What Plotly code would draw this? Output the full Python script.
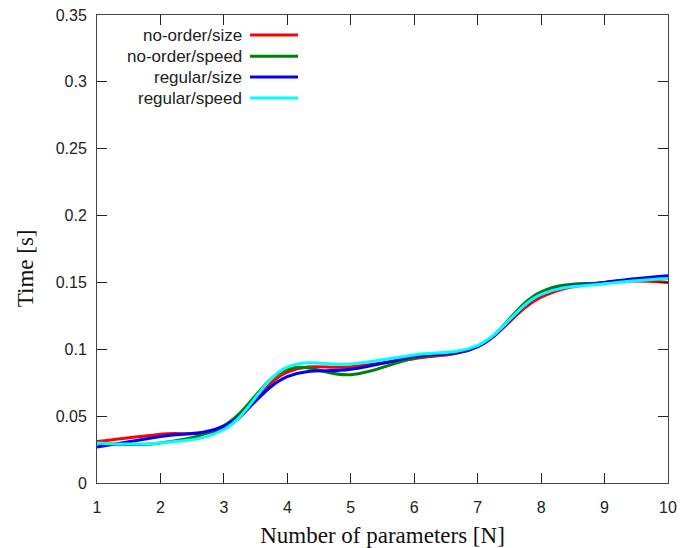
import plotly.graph_objects as go

# ---- data ----
n_params = [1, 2, 3, 4, 5, 6, 7, 8, 9, 10]
series_names = ["no-order/size", "no-order/speed", "regular/size", "regular/speed"]
no_order_size = [0.031, 0.0365, 0.041, 0.083, 0.087, 0.093, 0.102, 0.139, 0.150, 0.150]
no_order_speed = [0.030, 0.030, 0.043, 0.085, 0.081, 0.0935, 0.102, 0.143, 0.150, 0.153]
regular_size = [0.027, 0.0347, 0.0425, 0.0796, 0.085, 0.0945, 0.102, 0.141, 0.150, 0.155]
regular_speed = [0.030, 0.030, 0.040, 0.0866, 0.089, 0.0958, 0.103, 0.141, 0.149, 0.153]
series_values = [no_order_size, no_order_speed, regular_size, regular_speed]
colors = ["#ff0000", "#008000", "#0000ff", "#00ffff"]

x_ticks = [1, 2, 3, 4, 5, 6, 7, 8, 9, 10]
y_ticks = [0, 0.05, 0.1, 0.15, 0.2, 0.25, 0.3, 0.35]
y_tick_text = ["0", "0.05", "0.1", "0.15", "0.2", "0.25", "0.3", "0.35"]

fig = go.Figure()
for name, vals, col in zip(series_names, series_values, colors):
    fig.add_trace(go.Scatter(
        x=n_params, y=vals, mode="lines", name=name,
        line=dict(color=col, width=3, shape="spline", smoothing=1.1),
        showlegend=False,
    ))

# manual gnuplot-style legend (text right-aligned, sample line to the right)
row_y = [0.957, 0.912, 0.8675, 0.8226]
for name, col, yy in zip(series_names, colors, row_y):
    fig.add_annotation(x=0.258, y=yy, xref="paper", yref="paper", text=name,
                       showarrow=False, xanchor="right", yanchor="middle",
                       font=dict(family="Liberation Sans, Arial", size=17, color="#222"))
    fig.add_shape(type="line", xref="paper", yref="paper", x0=0.268, x1=0.352,
                  y0=yy, y1=yy, line=dict(color=col, width=3))

# y-axis title placed like gnuplot's
fig.add_annotation(x=-0.126, y=0.459, xref="paper", yref="paper", text="Time [s]",
                   textangle=-90, showarrow=False, xanchor="center", yanchor="middle",
                   font=dict(family="Liberation Serif, Times New Roman", size=23, color="#111"))

axis_common = dict(
    showline=True, linecolor="#444", linewidth=1, mirror="ticks",
    ticks="inside", ticklen=10, tickcolor="#222", tickwidth=1,
    showgrid=False, zeroline=False, automargin=False,
    tickfont=dict(family="Liberation Sans, Arial", size=16, color="#222"),
    title_font=dict(family="Liberation Serif, Times New Roman", size=23, color="#111"),
)

fig.update_layout(
    width=680, height=548,
    margin=dict(l=97, r=12, t=15, b=65),
    paper_bgcolor="white", plot_bgcolor="white",
    xaxis=dict(range=[1, 10], tickvals=x_ticks, ticklabelstandoff=10,
               title=dict(text="Number of parameters [N]", standoff=14), **axis_common),
    yaxis=dict(range=[0, 0.35], tickvals=y_ticks, ticktext=y_tick_text, ticklabelstandoff=6,
               **axis_common),
)

fig.write_html("out.html")
